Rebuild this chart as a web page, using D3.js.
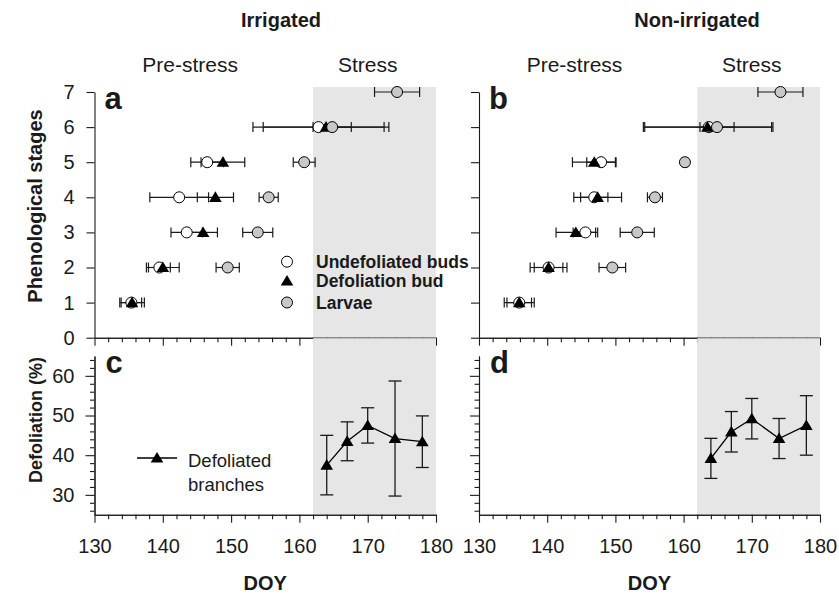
<!DOCTYPE html>
<html><head><meta charset="utf-8">
<script src="https://cdn.jsdelivr.net/npm/d3@7"></script>
<style>
html,body{margin:0;padding:0;background:#fff;}
svg{display:block;font-family:"Liberation Sans",Arial,sans-serif;}
</style></head>
<body><svg id="chart" width="839" height="596"></svg>
<script>
// ---------- data ----------
const stages = [1, 2, 3, 4, 5, 6, 7];
const stageTicks = [0, 1, 2, 3, 4, 5, 6, 7];
const doyTicks = [130, 140, 150, 160, 170, 180];
const defolTicks = [30, 40, 50, 60];
const stressStart = 162, stressEnd = 180;

// Irrigated (panel a): mean DOY and SE per phenological stage
const undefIrrMean = [135.4, 139.5, 143.5, 142.4, 146.5, 162.8, null];
const undefIrrErr  = [1.5, 1.6, 2.3, 4.3, 2.4, 9.6, null];
const defIrrMean   = [135.5, 140.0, 145.9, 147.7, 148.8, 163.9, null];
const defIrrErr    = [1.8, 2.4, 2.1, 2.65, 3.2, 9.2, null];
const larvIrrMean  = [null, 149.5, 153.9, 155.5, 160.7, 164.8, 174.3];
const larvIrrErr   = [null, 1.7, 2.2, 1.4, 1.6, 2.8, 3.3];

// Non-irrigated (panel b)
const undefNonMean = [135.9, 140.2, 145.6, 146.9, 147.9, 163.7, null];
const undefNonErr  = [1.8, 2.1, 1.8, 2.0, 2.1, 9.4, null];
const defNonMean   = [135.9, 140.2, 144.2, 147.4, 146.9, 163.5, null];
const defNonErr    = [2.2, 2.7, 2.9, 3.5, 3.2, 9.4, null];
const larvNonMean  = [null, 149.55, 153.2, 155.8, 160.2, 164.9, 174.2];
const larvNonErr   = [null, 1.95, 2.5, 1.1, 0.4, 2.5, 3.3];

// Defoliated branches (panels c, d)
const branchDOY    = [164, 167, 170, 174, 178];
const branchIrr    = [37.5, 43.5, 47.5, 44.2, 43.4];
const branchIrrErr = [7.5, 4.9, 4.45, 14.5, 6.5];
const branchNon    = [39.2, 45.9, 49.2, 44.2, 47.5];
const branchNonErr = [5.05, 5.1, 5.1, 5.05, 7.5];

const legendLabels = ["Undefoliated buds", "Defoliation bud", "Larvae"];

// ---------- layout ----------
const svg = d3.select("#chart");
const ink = "#1a1a1a";
const shade = "#e6e6e6";
const panelsX = [[94.5, 436], [479, 820]];
const topY = [337.7, 92];   // stage 0 -> 7
const botY = [514.7, 356];  // 25 -> 65

const triPath = "M0,-6 L6.3,4.6 L-6.3,4.6 Z";

function xAxes(g, x, y0, labels) {
  const major = d3.axisBottom(x).tickValues(doyTicks).tickSize(8).tickSizeOuter(0)
    .tickPadding(16).tickFormat(labels ? d3.format("d") : "");
  const minor = d3.axisBottom(x).tickValues(d3.range(132, 180, 2).filter(v => v % 10 !== 0))
    .tickSize(4.5).tickSizeOuter(0).tickFormat("");
  const gm = g.append("g").attr("transform", `translate(0,${y0})`).call(minor);
  const gM = g.append("g").attr("transform", `translate(0,${y0})`).call(major);
  [gm, gM].forEach(s => { s.selectAll("line,path").attr("stroke", ink).attr("stroke-width", 1.1); });
  gM.selectAll("text").attr("fill", ink).attr("font-size", 20).attr("font-family", "Liberation Sans, Arial, sans-serif");
}

function drawPheno(px, undef, def, larv, letter, showLabels, showLegend, titleParts) {
  const x = d3.scaleLinear().domain([130, 180]).range(px);
  const y = d3.scaleLinear().domain([0, 7]).range(topY);
  const g = svg.append("g");
  // stress shading spanning both panels
  g.append("rect").attr("x", x(stressStart)).attr("width", x(stressEnd) - x(stressStart))
    .attr("y", y(7) - 5).attr("height", botY[0] - (y(7) - 5)).attr("fill", shade);
  // y axis
  const ya = d3.axisLeft(y).tickValues(stageTicks).tickSize(8).tickPadding(12).tickSizeOuter(0)
    .tickFormat(showLabels ? d3.format("d") : "");
  const gy = g.append("g").attr("transform", `translate(${px[0]},0)`).call(ya);
  gy.selectAll("line,path").attr("stroke", ink).attr("stroke-width", 1.1);
  gy.selectAll("text").attr("fill", ink).attr("font-size", 20).attr("font-family", "Liberation Sans, Arial, sans-serif");
  xAxes(g, x, topY[0], false);

  const series = [
    {m: undef[0], e: undef[1], type: "open"},
    {m: def[0], e: def[1], type: "tri"},
    {m: larv[0], e: larv[1], type: "larv"}
  ];
  // error bars
  series.forEach(s => {
    const pts = stages.map((st, i) => ({st, m: s.m[i], e: s.e[i]})).filter(d => d.m != null);
    const eb = g.append("g").attr("stroke", ink).attr("stroke-width", 1.2);
    pts.forEach(d => {
      eb.append("line").attr("x1", x(d.m - d.e)).attr("x2", x(d.m + d.e)).attr("y1", y(d.st)).attr("y2", y(d.st));
      [d.m - d.e, d.m + d.e].forEach(v => eb.append("line").attr("x1", x(v)).attr("x2", x(v))
        .attr("y1", y(d.st) - 5).attr("y2", y(d.st) + 5));
    });
  });
  // markers
  series.forEach(s => {
    const pts = stages.map((st, i) => ({st, m: s.m[i]})).filter(d => d.m != null);
    if (s.type === "tri") {
      g.selectAll(null).data(pts).enter().append("path").attr("d", triPath)
        .attr("transform", d => `translate(${x(d.m)},${y(d.st)})`).attr("fill", "#000");
    } else {
      g.selectAll(null).data(pts).enter().append("circle")
        .attr("cx", d => x(d.m)).attr("cy", d => y(d.st)).attr("r", 5.5)
        .attr("fill", s.type === "open" ? "#fff" : "#c8c8c8").attr("stroke", "#000").attr("stroke-width", 1);
    }
  });
  // panel letter
  g.append("text").attr("x", px[0] + 10).attr("y", 109).attr("font-size", 31).attr("font-weight", "bold")
    .attr("fill", ink).text(letter);
  // Pre-stress / Stress
  g.append("text").attr("x", x(144)).attr("y", 71.5).attr("text-anchor", "middle").attr("font-size", 21)
    .attr("fill", ink).text(titleParts[0]);
  g.append("text").attr("x", x(170)).attr("y", 71.5).attr("text-anchor", "middle").attr("font-size", 21)
    .attr("fill", ink).text(titleParts[1]);
  if (showLegend) {
    const ly = [261.7, 281, 302.5];
    const lx = 287;
    g.append("circle").attr("cx", lx).attr("cy", ly[0]).attr("r", 5.5).attr("fill", "#fff").attr("stroke", "#000");
    g.append("path").attr("d", triPath).attr("transform", `translate(${lx},${ly[1]})`).attr("fill", "#000");
    g.append("circle").attr("cx", lx).attr("cy", ly[2]).attr("r", 5.5).attr("fill", "#c8c8c8").attr("stroke", "#000");
    legendLabels.forEach((t, i) => g.append("text").attr("x", 316).attr("y", ly[i] + 6.2)
      .attr("font-size", 17.5).attr("font-weight", "bold").attr("fill", ink).text(t));
  }
  return x;
}

function drawBranch(px, vals, errs, letter, showLabels, showLegend) {
  const x = d3.scaleLinear().domain([130, 180]).range(px);
  const y = d3.scaleLinear().domain([25, 65]).range(botY);
  const g = svg.append("g");
  g.append("rect").attr("x", x(stressStart)).attr("width", x(stressEnd) - x(stressStart))
    .attr("y", topY[0] + 0.5).attr("height", botY[0] - topY[0] - 0.5).attr("fill", shade);
  const minor = d3.axisLeft(y).tickValues(d3.range(26, 65, 2).filter(v => v % 10 !== 0))
    .tickSize(4.5).tickSizeOuter(0).tickFormat("");
  const major = d3.axisLeft(y).tickValues(defolTicks).tickSize(9).tickPadding(11).tickSizeOuter(0)
    .tickFormat(showLabels ? d3.format("d") : "");
  const g1 = g.append("g").attr("transform", `translate(${px[0]},0)`).call(minor);
  const g2 = g.append("g").attr("transform", `translate(${px[0]},0)`).call(major);
  [g1, g2].forEach(s => s.selectAll("line,path").attr("stroke", ink).attr("stroke-width", 1.1));
  g2.selectAll("text").attr("fill", ink).attr("font-size", 20).attr("font-family", "Liberation Sans, Arial, sans-serif");
  xAxes(g, x, botY[0], true);

  const pts = branchDOY.map((d, i) => ({d, v: vals[i], e: errs[i]}));
  const eb = g.append("g").attr("stroke", ink).attr("stroke-width", 1.3);
  pts.forEach(p => {
    eb.append("line").attr("x1", x(p.d)).attr("x2", x(p.d)).attr("y1", y(p.v - p.e)).attr("y2", y(p.v + p.e));
    [p.v - p.e, p.v + p.e].forEach(v => eb.append("line").attr("x1", x(p.d) - 6.5).attr("x2", x(p.d) + 6.5)
      .attr("y1", y(v)).attr("y2", y(v)));
  });
  g.append("path").datum(pts).attr("fill", "none").attr("stroke", "#000").attr("stroke-width", 1.3)
    .attr("d", d3.line().x(p => x(p.d)).y(p => y(p.v)));
  g.selectAll(null).data(pts).enter().append("path").attr("d", triPath)
    .attr("transform", p => `translate(${x(p.d)},${y(p.v)})`).attr("fill", "#000");
  g.append("text").attr("x", px[0] + 11).attr("y", 373).attr("font-size", 31).attr("font-weight", "bold")
    .attr("fill", ink).text(letter);
  // DOY label
  g.append("text").attr("x", (px[0] + px[1]) / 2).attr("y", 590).attr("text-anchor", "middle")
    .attr("font-size", 20).attr("font-weight", "bold").attr("fill", ink).text("DOY");
  if (showLegend) {
    g.append("line").attr("x1", 137).attr("x2", 177).attr("y1", 458).attr("y2", 458).attr("stroke", "#000").attr("stroke-width", 1.3);
    g.append("path").attr("d", triPath).attr("transform", "translate(157,458)").attr("fill", "#000");
    g.append("text").attr("x", 188).attr("y", 466.5).attr("font-size", 18.5).attr("fill", ink).text("Defoliated");
    g.append("text").attr("x", 188).attr("y", 490.5).attr("font-size", 18.5).attr("fill", ink).text("branches");
  }
}

drawPheno(panelsX[0], [undefIrrMean, undefIrrErr], [defIrrMean, defIrrErr], [larvIrrMean, larvIrrErr],
  "a", true, true, ["Pre-stress", "Stress"]);
drawPheno(panelsX[1], [undefNonMean, undefNonErr], [defNonMean, defNonErr], [larvNonMean, larvNonErr],
  "b", false, false, ["Pre-stress", "Stress"]);
drawBranch(panelsX[0], branchIrr, branchIrrErr, "c", true, true);
drawBranch(panelsX[1], branchNon, branchNonErr, "d", false, false);

// Titles
svg.append("text").attr("x", 281).attr("y", 27).attr("text-anchor", "middle").attr("font-size", 20)
  .attr("font-weight", "bold").attr("fill", ink).text("Irrigated");
svg.append("text").attr("x", 697).attr("y", 27).attr("text-anchor", "middle").attr("font-size", 20)
  .attr("font-weight", "bold").attr("fill", ink).text("Non-irrigated");
// Axis titles
svg.append("text").attr("transform", "translate(42,206) rotate(-90)").attr("text-anchor", "middle")
  .attr("font-size", 20).attr("font-weight", "bold").attr("fill", ink).text("Phenological stages");
svg.append("text").attr("transform", "translate(42,420) rotate(-90)").attr("text-anchor", "middle")
  .attr("font-size", 18).attr("font-weight", "bold").attr("fill", ink).text("Defoliation (%)");
</script></body></html>
